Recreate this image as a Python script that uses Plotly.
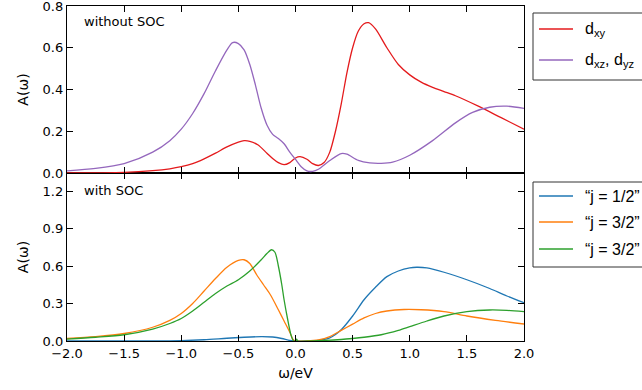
import plotly.graph_objects as go

# ---- top panel: without SOC ----
w_dxy = [-2.0, -1.5, -1.25, -1.1, -1.0, -0.9, -0.8, -0.7, -0.6, -0.5, -0.45, -0.4, -0.33, -0.25, -0.2, -0.15,
         -0.1, -0.05, 0.0, 0.04, 0.1, 0.15, 0.2, 0.25, 0.3, 0.35, 0.4, 0.45, 0.5, 0.55, 0.6, 0.64, 0.7, 0.8,
         0.9, 1.0, 1.1, 1.2, 1.3, 1.4, 1.6, 1.8, 2.0]
a_dxy = [0.0, 0.003, 0.011, 0.02, 0.03, 0.045, 0.068, 0.095, 0.125, 0.148, 0.155, 0.152, 0.135, 0.095, 0.07,
         0.05, 0.04, 0.05, 0.072, 0.078, 0.066, 0.045, 0.036, 0.05, 0.1, 0.2, 0.33, 0.48, 0.6, 0.68, 0.715,
         0.72, 0.69, 0.6, 0.52, 0.47, 0.435, 0.41, 0.39, 0.37, 0.32, 0.265, 0.21]

w_dxz = [-2.0, -1.75, -1.5, -1.25, -1.1, -1.0, -0.9, -0.8, -0.7, -0.6, -0.55, -0.5, -0.45, -0.4, -0.35, -0.3,
         -0.25, -0.2, -0.15, -0.1, -0.05, 0.0, 0.05, 0.1, 0.15, 0.2, 0.3, 0.4, 0.45, 0.55, 0.65, 0.75, 0.85,
         1.0, 1.2, 1.4, 1.55, 1.7, 1.85, 2.0]
a_dxz = [0.01, 0.022, 0.045, 0.1, 0.155, 0.21, 0.285, 0.38, 0.49, 0.59, 0.625, 0.62, 0.59, 0.52, 0.42, 0.31,
         0.23, 0.185, 0.165, 0.14, 0.1, 0.065, 0.03, 0.01, 0.008, 0.018, 0.06, 0.093, 0.09, 0.06, 0.048, 0.046,
         0.052, 0.085, 0.155, 0.24, 0.29, 0.315, 0.32, 0.31]

# ---- bottom panel: with SOC ----
w_j12 = [-2.0, -1.5, -1.0, -0.8, -0.6, -0.45, -0.3, -0.2, -0.12, -0.05, 0.0, 0.1, 0.2, 0.3, 0.4, 0.5, 0.6, 0.7,
         0.8, 0.9, 1.0, 1.06, 1.15, 1.3, 1.5, 1.7, 1.85, 2.0]
a_j12 = [0.0, 0.0, 0.003, 0.01, 0.022, 0.03, 0.035, 0.032, 0.02, 0.004, 0.0, 0.0, 0.005, 0.025, 0.09, 0.2,
         0.33, 0.43, 0.515, 0.56, 0.585, 0.59, 0.585, 0.55, 0.49, 0.42, 0.36, 0.307]

w_j32a = [-2.0, -1.75, -1.5, -1.25, -1.1, -1.0, -0.9, -0.8, -0.7, -0.6, -0.5, -0.45, -0.4, -0.34, -0.28, -0.22,
          -0.15, -0.1, -0.05, -0.02, 0.0, 0.1, 0.2, 0.3, 0.4, 0.5, 0.6, 0.7, 0.8, 0.95, 1.1, 1.3, 1.5, 1.75, 2.0]
a_j32a = [0.02, 0.035, 0.06, 0.11, 0.165, 0.22, 0.3, 0.4, 0.5, 0.59, 0.645, 0.65, 0.62, 0.53, 0.45, 0.37,
          0.25, 0.16, 0.07, 0.01, 0.0, 0.0, 0.008, 0.035, 0.085, 0.135, 0.185, 0.22, 0.24, 0.252, 0.25, 0.235,
          0.2, 0.165, 0.136]

w_j32b = [-2.0, -1.75, -1.5, -1.25, -1.1, -1.0, -0.9, -0.8, -0.7, -0.6, -0.5, -0.4, -0.3, -0.25, -0.21, -0.18,
          -0.15, -0.12, -0.1, -0.07, -0.04, -0.02, 0.0, 0.01, 0.02, 0.2, 0.4, 0.5, 0.6, 0.75, 0.9, 1.0, 1.15,
          1.3, 1.5, 1.7, 1.85, 2.0]
a_j32b = [0.015, 0.03, 0.05, 0.095, 0.14, 0.18, 0.24, 0.31, 0.38, 0.44, 0.49, 0.56, 0.65, 0.7, 0.73, 0.71,
          0.6, 0.45, 0.33, 0.18, 0.05, 0.005, 0.0, 0.015, 0.0, 0.003, 0.012, 0.02, 0.03, 0.05, 0.085, 0.115,
          0.16, 0.2, 0.235, 0.248, 0.245, 0.235]

top_ticks = [0.0, 0.2, 0.4, 0.6, 0.8]
bot_ticks = [0.0, 0.3, 0.6, 0.9, 1.2]
x_ticks = [-2.0, -1.5, -1.0, -0.5, 0.0, 0.5, 1.0, 1.5, 2.0]

top_names = ["d<sub>xy</sub>", "d<sub>xz</sub>, d<sub>yz</sub>"]
bot_names = ["“j = 1/2”", "“j = 3/2”", "“j = 3/2”"]
top_colors = ["#e41a1c", "#9467bd"]
bot_colors = ["#1f77b4", "#ff7f0e", "#2ca02c"]

FONT = "DejaVu Sans"
LFONT = "Liberation Sans"
W, H = 642, 390
ML, MR, MT, MB = 67, 118, 6, 49
PW, PH = W - ML - MR, H - MT - MB

def fx(px):
    return (px - ML) / PW

def fy(py):
    return (H - MB - py) / PH

fig = go.Figure()

def add(x, y, name, color, xa, ya):
    fig.add_trace(go.Scatter(x=x, y=y, name=name, mode="lines", xaxis=xa, yaxis=ya, showlegend=False,
                             line=dict(color=color, width=1.3, shape="spline", smoothing=0.8)))

add(w_dxy, a_dxy, top_names[0], top_colors[0], "x2", "y2")
add(w_dxz, a_dxz, top_names[1], top_colors[1], "x2", "y2")
add(w_j12, a_j12, bot_names[0], bot_colors[0], "x", "y")
add(w_j32a, a_j32a, bot_names[1], bot_colors[1], "x", "y")
add(w_j32b, a_j32b, bot_names[2], bot_colors[2], "x", "y")

split = 168 / 335
axis_common = dict(showline=True, linecolor="black", linewidth=1.3, mirror="allticks", ticks="inside",
                   ticklen=6, tickwidth=1.3, tickcolor="black", showgrid=False, zeroline=False,
                   ticklabeloverflow="allow",
                   tickfont=dict(family=FONT, size=13, color="black"))

# manual legends (boxes run past the right edge, as in the reference)
shapes = []
annotations = []

def legend_block(top, bottom, rows, names, colors):
    shapes.append(dict(type="rect", xref="paper", yref="paper", x0=fx(533), x1=fx(720),
                       y0=fy(bottom), y1=fy(top), line=dict(color="#333333", width=1),
                       fillcolor="white", layer="above"))
    for yy, nm, col in zip(rows, names, colors):
        shapes.append(dict(type="line", xref="paper", yref="paper", x0=fx(539), x1=fx(573),
                           y0=fy(yy), y1=fy(yy), line=dict(color=col, width=1.3), layer="above"))
        annotations.append(dict(text=nm, xref="paper", yref="paper", x=fx(583), y=fy(yy),
                                xanchor="left", yanchor="middle", showarrow=False,
                                font=dict(family=LFONT, size=16, color="black")))

legend_block(13, 80, [29, 60], top_names, top_colors)
legend_block(182, 267, [196, 222, 249], bot_names, bot_colors)

annotations += [
    dict(text="without SOC", xref="paper", yref="paper", x=0.033, y=0.955, xanchor="left",
         yanchor="middle", showarrow=False, font=dict(family=FONT, size=13)),
    dict(text="with SOC", xref="paper", yref="paper", x=0.033, y=0.448, xanchor="left",
         yanchor="middle", showarrow=False, font=dict(family=FONT, size=13)),
]

fig.update_layout(
    width=W, height=H,
    margin=dict(l=ML, r=MR, t=MT, b=MB, autoexpand=False),
    paper_bgcolor="white", plot_bgcolor="white",
    font=dict(family=FONT, size=13, color="black"),
    showlegend=False,
    xaxis=dict(domain=[0, 1], anchor="y", range=[-2, 2], tickvals=x_ticks, tickformat=".1f",
               title=dict(text="ω/eV", standoff=8, font=dict(size=14)), **axis_common),
    xaxis2=dict(domain=[0, 1], anchor="y2", range=[-2, 2], tickvals=x_ticks, showticklabels=False,
                matches="x", **axis_common),
    yaxis=dict(domain=[0, split], anchor="x", range=[0, 1.344], tickvals=bot_ticks, tickformat=".1f",
               title=dict(text="A(ω)", standoff=10, font=dict(size=14)), **axis_common),
    yaxis2=dict(domain=[split, 1], anchor="x2", range=[0, 0.8], tickvals=top_ticks, tickformat=".1f",
                title=dict(text="A(ω)", standoff=10, font=dict(size=14)), **axis_common),
    shapes=shapes,
    annotations=annotations,
)

fig.write_html("out.html")
